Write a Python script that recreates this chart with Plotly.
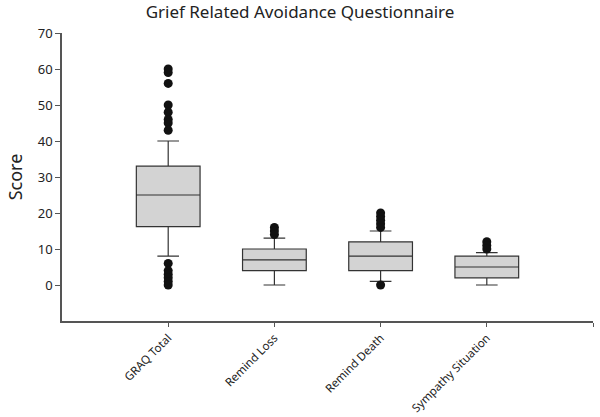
import plotly.graph_objs as go

# Grief Related Avoidance Questionnaire - box summaries
categories = ['GRAQ Total', 'Remind Loss', 'Remind Death', 'Sympathy Situation']
q1 = [16.2, 4, 4, 2]
median = [25, 7, 8, 5]
q3 = [33, 10, 12, 8]
lower_whisker = [8, 0, 1, 0]
upper_whisker = [40, 13, 15, 9]

# outlying scores per scale
outliers = [
    [60, 59, 56, 50, 48, 46, 45, 43, 6, 4, 3, 2, 1, 0],
    [16, 15, 14],
    [20, 19, 18, 17, 16, 0],
    [12, 11, 10],
]

fig = go.Figure()

for i, name in enumerate(categories):
    fig.add_trace(go.Box(
        x=[i], q1=[q1[i]], median=[median[i]], q3=[q3[i]],
        lowerfence=[lower_whisker[i]], upperfence=[upper_whisker[i]],
        width=0.6, whiskerwidth=0.34,
        fillcolor='#d3d3d3',
        line=dict(color='#333333', width=1.2),
        boxpoints=False, name=name, showlegend=False,
    ))
    fig.add_trace(go.Scatter(
        x=[i] * len(outliers[i]), y=outliers[i], mode='markers',
        marker=dict(color='#111111', size=9),
        showlegend=False, hoverinfo='y',
    ))

font_family = 'Noto Sans, Open Sans, sans-serif'
axis_font = dict(family=font_family, size=11.5, color='#222222')

fig.update_layout(
    width=600, height=417,
    plot_bgcolor='white', paper_bgcolor='white',
    margin=dict(l=62, r=7, t=33, b=96, autoexpand=False),
    title=dict(text='Grief Related Avoidance Questionnaire', x=0.5, xanchor='center',
               y=0.985, yanchor='top',
               font=dict(family=font_family, size=17, color='#222222')),
    font=axis_font,
)

fig.update_xaxes(
    range=[-1, 4], tickvals=[0, 1, 2, 3, 4], ticktext=categories + [''],
    tickangle=-45, ticks='outside', ticklen=4, tickcolor='#555555',
    showline=True, linecolor='#555555', linewidth=1.5, automargin=False,
    showgrid=False, zeroline=False, tickfont=axis_font,
)
fig.update_yaxes(
    range=[-10, 70], tickvals=list(range(0, 80, 10)),
    ticks='outside', ticklen=5, tickcolor='#555555',
    showline=True, linecolor='#555555', linewidth=1.5, automargin=False,
    showgrid=False, zeroline=False, tickfont=dict(family=font_family, size=13, color='#222222'),
    title=dict(text='Score', font=dict(family=font_family, size=18, color='#222222'),
               standoff=10),
)

# drop the default page margin so the 600x417 figure fills the window
fig.write_html("out.html", config={'displayModeBar': False},
               post_script="document.body.style.margin='0';")
